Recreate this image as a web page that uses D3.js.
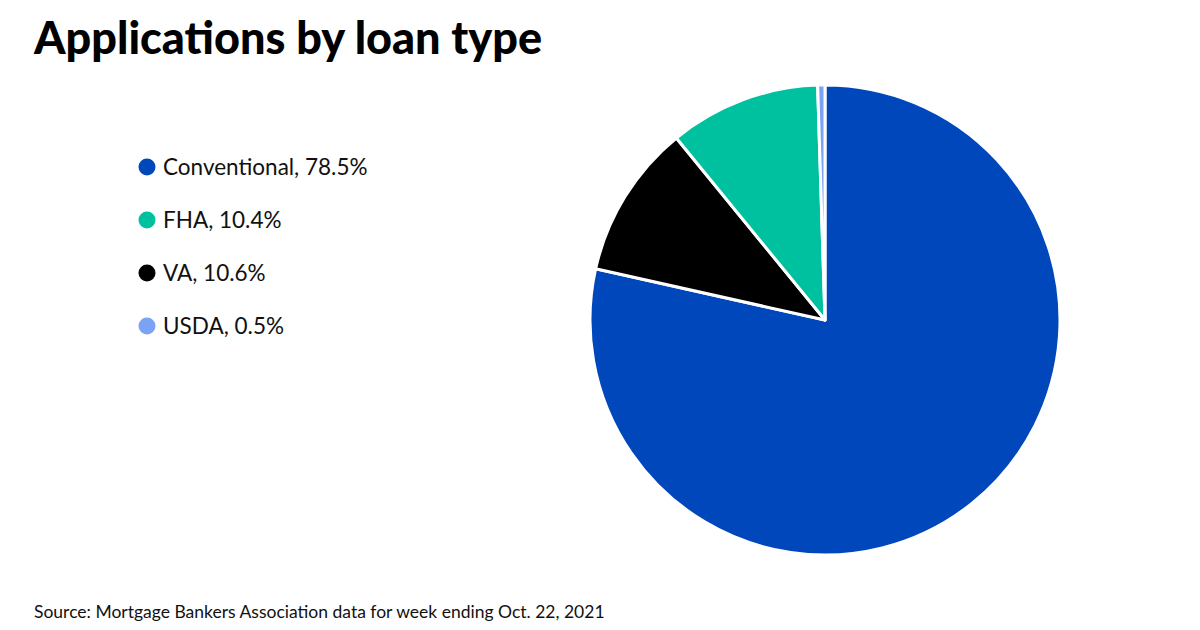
<!DOCTYPE html>
<html><head><meta charset="utf-8">
<script src="https://cdn.jsdelivr.net/npm/d3@7"></script>
<style>body{margin:0;background:#fff;}svg{display:block;font-family:Lato,sans-serif;}</style>
</head><body>
<svg id="c" width="1200" height="630"></svg>
<script>
const pieOrder = ["Conventional","VA","FHA","USDA"];
const pieValues = [78.5,10.6,10.4,0.5];
const legendLabels = ["Conventional, 78.5%","FHA, 10.4%","VA, 10.6%","USDA, 0.5%"];
const legendKeys = ["Conventional","FHA","VA","USDA"];
const colors = {Conventional:"#0047BB",FHA:"#00C19F",VA:"#000000",USDA:"#7BA3F5"};

const svg = d3.select("#c");
svg.append("text").attr("x",34).attr("y",54).attr("font-size",45).attr("font-weight",900)
  .attr("fill","#000").text("Applications by loan type");

const data = pieOrder.map((k,i)=>({k,v:pieValues[i]}));
const pie = d3.pie().value(d=>d.v).sort(null);
const arc = d3.arc().innerRadius(0).outerRadius(235);
const g = svg.append("g").attr("transform","translate(825,320)");
g.selectAll("path").data(pie(data)).join("path")
  .attr("d",arc).attr("fill",d=>colors[d.data.k])
  .attr("stroke","#fff").attr("stroke-width",3).attr("stroke-linejoin","round");

const lg = svg.append("g");
legendKeys.forEach((k,i)=>{
  const y = 167 + i*53;
  lg.append("circle").attr("cx",147).attr("cy",y).attr("r",8.5).attr("fill",colors[k]);
  lg.append("text").attr("x",163).attr("y",y+8).attr("font-size",22.5).attr("fill","#111").text(legendLabels[i]);
});

svg.append("text").attr("x",34).attr("y",618).attr("font-size",17.5).attr("fill","#111")
  .text("Source: Mortgage Bankers Association data for week ending Oct. 22, 2021");
</script>
</body></html>
